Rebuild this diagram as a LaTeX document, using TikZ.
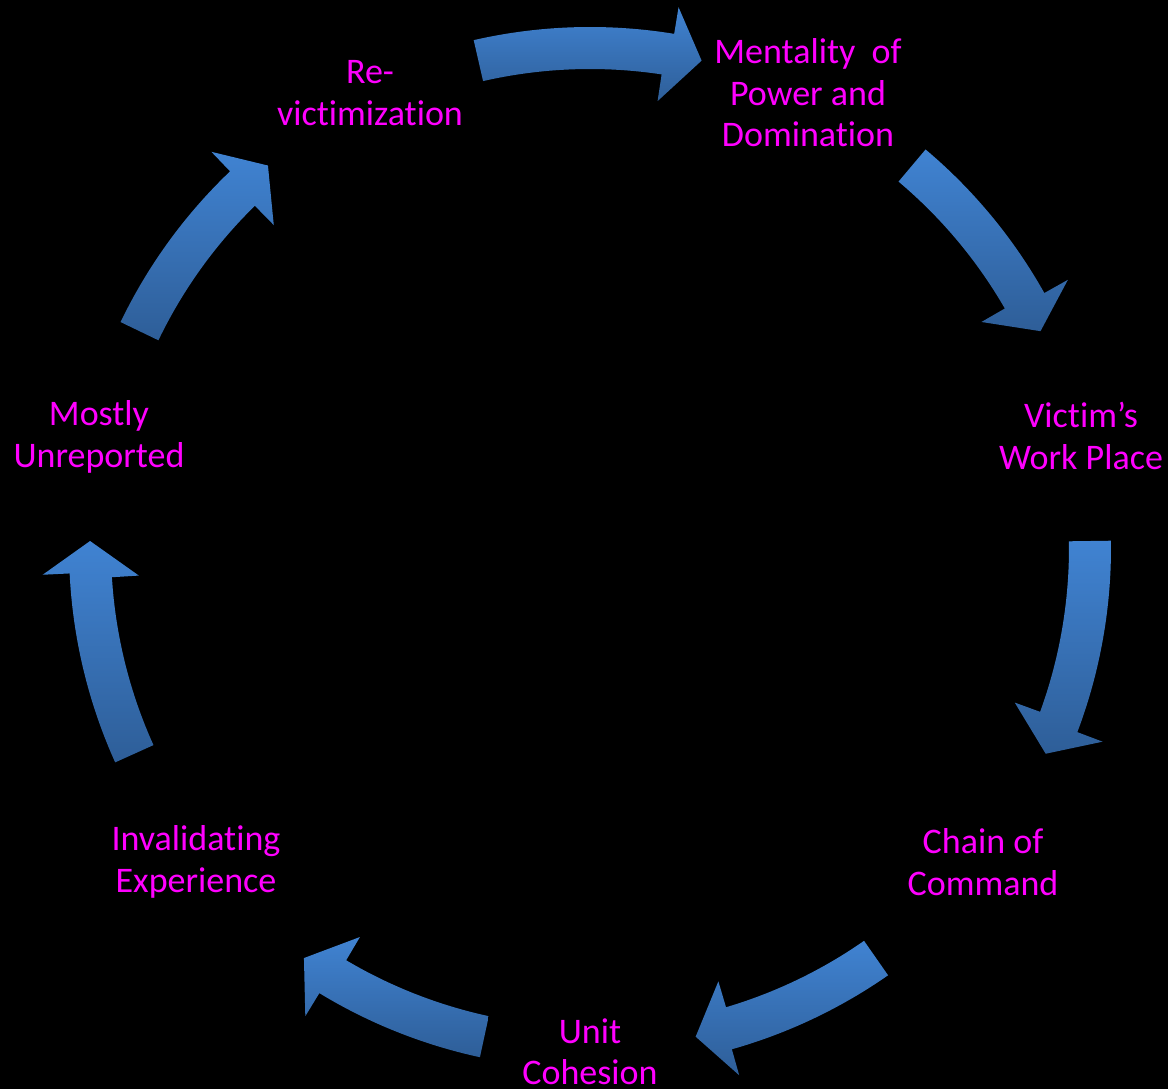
\documentclass[tikz,border=0pt]{standalone}
\usepackage{fontspec}
\setmainfont{Carlito}[Ligatures=NoCommon]
\definecolor{lblcolor}{RGB}{255,0,255}
\definecolor{arrowlight}{RGB}{64,131,210}
\definecolor{arrowdark}{RGB}{46,94,152}
\tikzset{
  lbl/.style={text=lblcolor, align=center, inner sep=0pt,
    font=\fontsize{36pt}{41.5pt}\selectfont},
  arrowshape/.style={top color=arrowlight, bottom color=arrowdark, draw=none}
}
% #1 tail angle, #2 tip angle (clockwise arrows)
\newcommand\cycarrow[2]{%
  \pgfmathsetmacro\hbo{#2+3.6}%
  \pgfmathsetmacro\hbi{#2+4.3}%
  \path[arrowshape] (#1:521pt) arc[start angle=#1, end angle=\hbo, radius=521pt]
    -- (\hbo:548pt) -- (#2:500pt) -- (\hbi:452pt) -- (\hbi:479pt)
    arc[start angle=\hbi, end angle=#1, radius=479pt] -- cycle;
}
\begin{document}
\begin{tikzpicture}[x=1pt,y=1pt]
\fill[black] (0,0) rectangle (1168,1089);
\useasboundingbox (0,0) rectangle (1168,1089);
\coordinate (C) at (590,541);
\begin{scope}[shift={(C)}]
  \cycarrow{102.9}{77.1}
  \cycarrow{49.9}{25.7}
  \cycarrow{0.8}{-24.3}
  \cycarrow{-55.1}{-77.8}
  \cycarrow{-102.2}{-124.9}
  \cycarrow{204.3}{179.2}
  \cycarrow{154.3}{130.1}
\end{scope}
\node[lbl] (rev) at (370,996) {Re-\\victimization};
\node[lbl] (ment) at (808,996) {Mentality\ \ of\\Power and\\Domination};
\node[lbl] (vict) at (1081,653) {Victim’s\\Work Place};
\node[lbl] (chain) at (983,227) {Chain of\\Command};
\node[lbl] (unit) at (590,37) {Unit\\Cohesion};
\node[lbl] (inval) at (196,227) {Invalidating\\Experience};
\node[lbl] (mostly) at (99,652) {Mostly\\Unreported};
\end{tikzpicture}
\end{document}
